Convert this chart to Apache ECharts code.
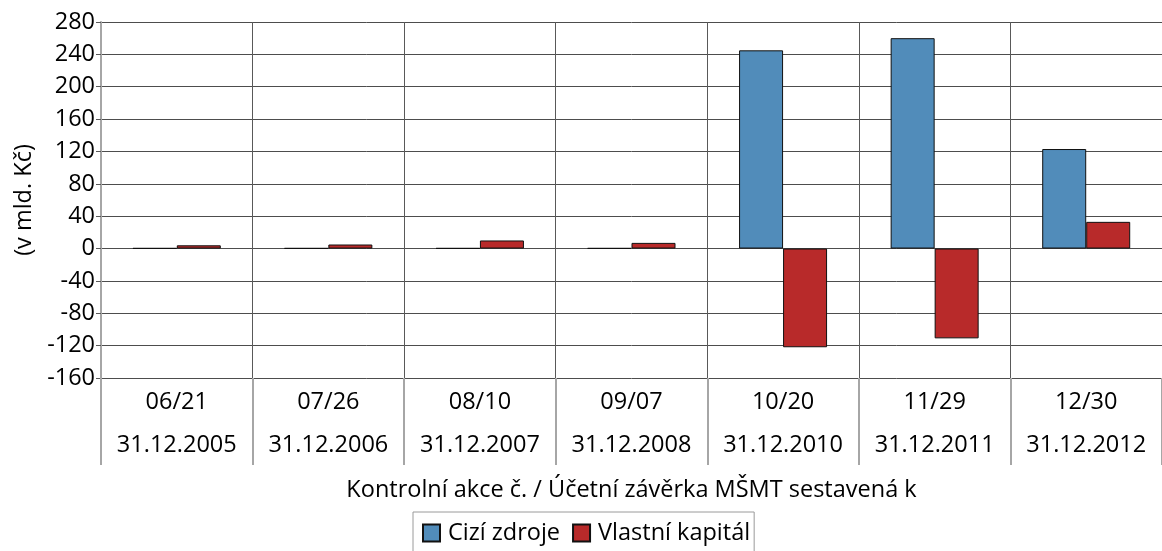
<!DOCTYPE html>
<html>
<head>
<meta charset="utf-8">
<script src="https://cdn.jsdelivr.net/npm/echarts@6/dist/echarts.min.js"></script>
<style>
html,body{margin:0;padding:0;background:#fff;}
#c{width:1162px;height:551px;}
</style>
</head>
<body>
<div id="c"></div>
<script>
const actions = ['06/21','07/26','08/10','09/07','10/20','11/29','12/30'];
const dates = ['31.12.2005','31.12.2006','31.12.2007','31.12.2008','31.12.2010','31.12.2011','31.12.2012'];
const ciziZdroje = [0.4, 0.4, 0.4, 0.4, 245, 260, 123];
const vlastniKapital = [4, 5, 10, 7, -122, -111, 33];
const yTicks = {min: -160, max: 280, interval: 40};

const FONT = 'Open Sans';
const FS = 23.5;
const categories = actions.map((a, i) => a + '\n' + dates[i]);

const chart = echarts.init(document.getElementById('c'), null, {renderer: 'canvas'});
chart.setOption({
  animation: false,
  textStyle: {fontFamily: FONT},
  grid: {left: 101, top: 22, right: -2, bottom: 173, containLabel: false},
  legend: {
    data: ['Cizí zdroje', 'Vlastní kapitál'],
    left: 413, top: 512,
    orient: 'horizontal',
    icon: 'rect',
    itemWidth: 17, itemHeight: 17,
    itemGap: 12,
    padding: [9, 4, 20, 9],
    borderColor: '#9a9a9a', borderWidth: 1,
    textStyle: {fontFamily: FONT, fontSize: FS, color: '#000', padding: [0, 0, 0, 3]}
  },
  xAxis: {
    type: 'category',
    data: categories,
    name: 'Kontrolní akce č. / Účetní závěrka MŠMT sestavená k',
    nameLocation: 'middle',
    nameGap: 100,
    nameTextStyle: {fontFamily: FONT, fontSize: FS, color: '#000'},
    axisLine: {show: false, onZero: false},
    axisTick: {show: true, length: 87, alignWithLabel: false, lineStyle: {color: '#a6a6a6', width: 2}},
    axisLabel: {fontFamily: FONT, fontSize: FS, color: '#000', lineHeight: 43, margin: 3, interval: 0},
    splitLine: {show: true, lineStyle: {color: '#595959', width: 1}}
  },
  yAxis: {
    type: 'value',
    min: yTicks.min, max: yTicks.max, interval: yTicks.interval,
    name: '(v mld. Kč)',
    nameLocation: 'middle',
    nameGap: 58,
    nameRotate: 90,
    nameTextStyle: {fontFamily: FONT, fontSize: FS, color: '#000'},
    axisLine: {show: true, lineStyle: {color: '#a6a6a6', width: 2}},
    axisTick: {show: true, length: 5, lineStyle: {color: '#595959', width: 1}},
    axisLabel: {fontFamily: FONT, fontSize: FS, color: '#000', margin: 6},
    splitLine: {show: true, lineStyle: {color: '#4d4d4d', width: 1}}
  },
  series: [
    {
      name: 'Cizí zdroje', type: 'bar', data: ciziZdroje,
      barWidth: 44, barGap: '0%',
      itemStyle: {color: '#518cba', borderColor: '#111', borderWidth: 1}
    },
    {
      name: 'Vlastní kapitál', type: 'bar', data: vlastniKapital,
      barWidth: 44, barGap: '0%',
      itemStyle: {color: '#b82a2a', borderColor: '#111', borderWidth: 1}
    }
  ]
});
</script>
</body>
</html>
